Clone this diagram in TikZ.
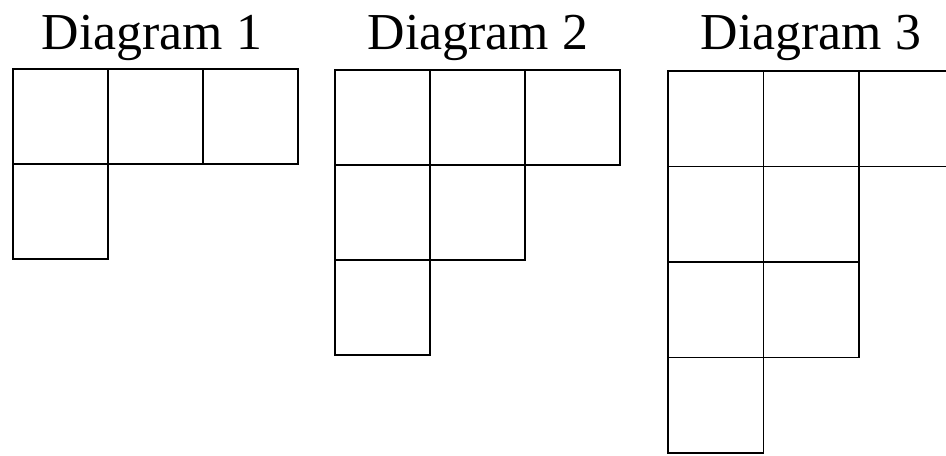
\documentclass[tikz,border=0pt]{standalone}
\usepackage{fontspec}
\setmainfont{Liberation Serif}
\begin{document}
\begin{tikzpicture}[x=0.02cm,y=-0.02cm,line width=1.1pt]
\useasboundingbox (0,0) rectangle (946,456);
\clip (0,0) rectangle (946,456);
\tikzset{title/.style={anchor=base,font=\fontsize{29.5}{30}\selectfont}}
\coordinate (D1) at (13,69);
\coordinate (D2) at (335,70);
\coordinate (D3) at (668,71);
\node [title] (T1) at (152,50) {Diagram 1};
\node [title] (T2) at (478,50) {Diagram 2};
\node [title] (T3) at (811,50) {Diagram 3};
\foreach \c/\r in {0/0,1/0,2/0,0/1}
  \draw ([shift={(\c*95,\r*95)}]D1) rectangle +(95,95);
\foreach \c/\r in {0/0,1/0,2/0,0/1,1/1,0/2}
  \draw ([shift={(\c*95,\r*95)}]D2) rectangle +(95,95);
\foreach \c/\r in {0/0,1/0,2/0,0/1,1/1,0/2,1/2,0/3}
  \draw ([shift={(\c*95.5,\r*95.5)}]D3) rectangle +(95.5,95.5);
\end{tikzpicture}
\end{document}
